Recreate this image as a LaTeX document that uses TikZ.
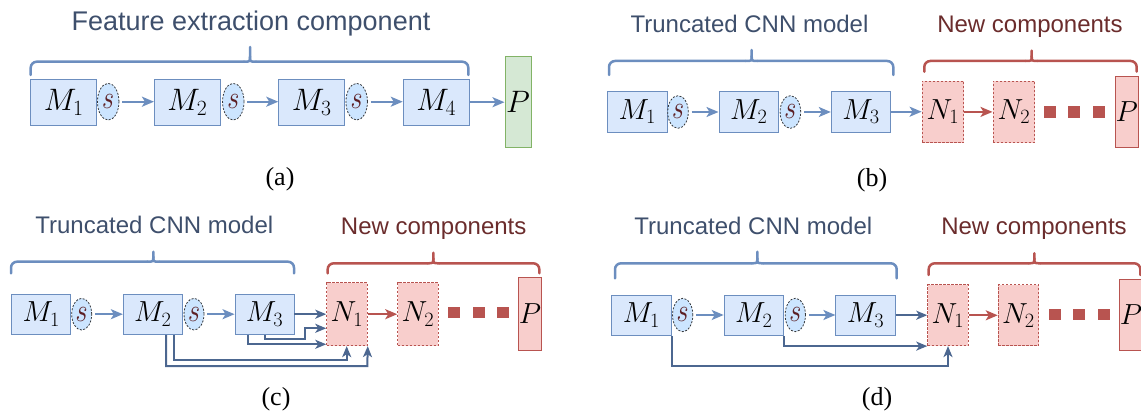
\RequirePackage{fix-cm}
\documentclass[tikz,border=0pt]{standalone}
\usepackage{fontspec}
\newfontfamily\titlefont{Liberation Sans}
\newfontfamily\capfont{Liberation Serif}
\usetikzlibrary{shapes.geometric,arrows.meta}

\definecolor{blueStroke}{HTML}{6C8EBF}
\definecolor{blueFill}{HTML}{DAE8FC}
\definecolor{sFill}{HTML}{CCE5FF}
\definecolor{sLine}{HTML}{36393D}
\definecolor{sText}{HTML}{5C1F24}
\definecolor{redStroke}{HTML}{B85450}
\definecolor{redFill}{HTML}{F8CECC}
\definecolor{greenStroke}{HTML}{82B366}
\definecolor{greenFill}{HTML}{D5E8D4}
\definecolor{skipBlue}{HTML}{4C6790}
\definecolor{titleBlue}{HTML}{3E4F6C}
\definecolor{titleRed}{HTML}{6B2C2C}

% curly brace: #1 colour, #2 left x, #3 right x, #4 bar y, #5 arm end y, #6 tip x, #7 tip top y
\newcommand{\drawbrace}[7]{%
  \draw[#1, line width=2.5pt, line cap=round, rounded corners=6pt] (#2,#5) |- (#6-6,#4);
  \draw[#1, line width=2.5pt, line cap=round, rounded corners=6pt] (#3,#5) |- (#6+6,#4);
  \draw[#1, line width=2.5pt, line cap=round] (#6-6,#4) .. controls (#6,#4) .. (#6,#4-5) -- (#6,#7);
  \draw[#1, line width=2.5pt, line cap=round] (#6+6,#4) .. controls (#6,#4) .. (#6,#4-5);
}
% the tall italic s inside the switch bubbles
\newcommand{\sw}{\scalebox{1}[1.25]{$s$}}

\begin{document}
\begin{tikzpicture}[x=1pt,y=-1pt,
  mathtxt/.style={font=\fontsize{29}{31}\selectfont},
  bigmath/.style={font=\fontsize{31}{33}\selectfont},
  mbox/.style={mathtxt, draw=blueStroke, fill=blueFill, line width=0.9pt, inner sep=0pt},
  nbox/.style={mathtxt, draw=redStroke, fill=redFill, line width=0.9pt, inner sep=0pt, dash pattern=on 2.5pt off 1.5pt},
  predred/.style={mathtxt, draw=redStroke, fill=redFill, line width=1pt, inner sep=0pt},
  predgreen/.style={bigmath, draw=greenStroke, fill=greenFill, line width=1pt, inner sep=0pt},
  sbub/.style={ellipse, draw=sLine, fill=sFill, line width=0.8pt, dash pattern=on 2pt off 1.5pt,
    inner sep=0pt, text=sText, font=\fontsize{26}{26}\selectfont},
  reddot/.style={fill=redStroke, draw=none, minimum size=11.7pt, inner sep=0pt},
  flow/.style={draw=blueStroke, line width=2pt, shorten <=3pt, -{Stealth[length=12pt,width=10pt,inset=3pt]}},
  flowred/.style={draw=redStroke, line width=2pt, -{Stealth[length=12pt,width=10pt,inset=3pt]}},
  skip/.style={draw=skipBlue, line width=2pt, -{Stealth[length=11pt,width=9pt,inset=3pt]}},
  ttl/.style={inner sep=0pt, anchor=base, font=\titlefont\fontsize{24}{24}\selectfont},
  subcap/.style={inner sep=0pt, font=\capfont\fontsize{26}{26}\selectfont}
]
\useasboundingbox (0,0) rectangle (1141,414);
\clip (0,0) rectangle (1141,414);

%% ---------- (a) feature extraction ----------
\node[ttl, text=titleBlue, font=\titlefont\fontsize{27}{27}\selectfont] (ta) at (251,31) {Feature extraction component};
\drawbrace{blueStroke}{30.7}{468.3}{61.7}{75}{250}{47}
\node[mbox, bigmath, minimum width=66pt, minimum height=45.7pt] (a1) at (63.7,102.2) {$M_1$};
\node[mbox, bigmath, minimum width=66pt, minimum height=45.7pt] (a2) at (187.4,102.2) {$M_2$};
\node[mbox, bigmath, minimum width=66pt, minimum height=45.7pt] (a3) at (311.7,102.2) {$M_3$};
\node[mbox, bigmath, minimum width=66pt, minimum height=45.7pt] (a4) at (436.2,102.2) {$M_4$};
\node[sbub, minimum width=21.5pt, minimum height=36.7pt] (as1) at (108.2,101.7) {\sw};
\node[sbub, minimum width=21.5pt, minimum height=36.7pt] (as2) at (233.3,101.7) {\sw};
\node[sbub, minimum width=21.5pt, minimum height=36.7pt] (as3) at (356.7,101.7) {\sw};
\node[predgreen, minimum width=26pt, minimum height=90.6pt] (ap) at (518,102) {$P$};
\draw[flow] (as1.east) -- (as1.east -| a2.west);
\draw[flow] (as2.east) -- (as2.east -| a3.west);
\draw[flow] (as3.east) -- (as3.east -| a4.west);
\draw[flow, shorten <=0pt] (a4.east) -- (a4.east -| ap.west);
\node[subcap] (la) at (280,179) {(a)};

%% ---------- (b) truncated model + new components ----------
\node[ttl, text=titleBlue] (tb1) at (749.5,32.3) {Truncated CNN model};
\node[ttl, text=titleRed] (tb2) at (1030,32.3) {New components};
\drawbrace{blueStroke}{609}{893.3}{61}{75}{751.7}{50}
\drawbrace{redStroke}{924.3}{1136.7}{61}{71.7}{1031.7}{50.7}
\node[mbox, minimum width=59.5pt, minimum height=41.3pt] (b1) at (637.2,111.7) {$M_1$};
\node[mbox, minimum width=59.5pt, minimum height=41.3pt] (b2) at (748.7,111.7) {$M_2$};
\node[mbox, minimum width=59.5pt, minimum height=41.3pt] (b3) at (861,111.7) {$M_3$};
\node[sbub, minimum width=20.6pt, minimum height=32.6pt] (bs1) at (678,112) {\sw};
\node[sbub, minimum width=20.6pt, minimum height=32.6pt] (bs2) at (790.4,112) {\sw};
\node[nbox, minimum width=41.7pt, minimum height=61.7pt] (bn1) at (942.9,111.9) {$N_1$};
\node[nbox, minimum width=41.7pt, minimum height=61.7pt] (bn2) at (1013.8,111.9) {$N_2$};
\node[predred, minimum width=23.3pt, minimum height=71.3pt] (bp) at (1126.7,111.7) {$P$};
\node[reddot] (bd1) at (1050,111.7) {};
\node[reddot] (bd2) at (1074,111.7) {};
\node[reddot] (bd3) at (1099,111.7) {};
\draw[flow] (bs1.east) -- (bs1.east -| b2.west);
\draw[flow] (bs2.east) -- (bs2.east -| b3.west);
\draw[flow, shorten <=0pt] (b3.east) -- (b3.east -| bn1.west);
\draw[flowred] (bn1.east) -- (bn1.east -| bn2.west);
\node[subcap] (lb) at (872,180) {(b)};

%% ---------- (c) dense skip connections ----------
\node[ttl, text=titleBlue] (tc1) at (154.3,234) {Truncated CNN model};
\node[ttl, text=titleRed] (tc2) at (433.7,235) {New components};
\drawbrace{blueStroke}{11}{294}{261.7}{273.3}{153.3}{251.7}
\drawbrace{redStroke}{327.7}{539.3}{263.3}{273.3}{433.3}{252.7}
\node[mbox, minimum width=59pt, minimum height=40.3pt] (c1) at (41.2,314.2) {$M_1$};
\node[mbox, minimum width=59pt, minimum height=40.3pt] (c2) at (152.8,314.2) {$M_2$};
\node[mbox, minimum width=59pt, minimum height=40.3pt] (c3) at (264.5,314.2) {$M_3$};
\node[sbub, minimum width=20pt, minimum height=31.7pt] (cs1) at (81.7,314.2) {\sw};
\node[sbub, minimum width=20pt, minimum height=31.7pt] (cs2) at (194,314.2) {\sw};
\node[nbox, minimum width=40.6pt, minimum height=63pt] (cn1) at (347,314.2) {$N_1$};
\node[nbox, minimum width=40.6pt, minimum height=63pt] (cn2) at (418,314.2) {$N_2$};
\node[predred, minimum width=23.4pt, minimum height=72.3pt] (cp) at (530,313.9) {$P$};
\node[reddot] (cd1) at (454,312.5) {};
\node[reddot] (cd2) at (479,312.5) {};
\node[reddot] (cd3) at (503,312.5) {};
\draw[flow] (cs1.east) -- (cs1.east -| c2.west);
\draw[flow] (cs2.east) -- (cs2.east -| c3.west);
\draw[flowred] (cn1.east) -- (cn1.east -| cn2.west);
\draw[skip] (c3.east) -- (cn1.west);
\draw[skip] (c3.south) |- (305,339) |- (cn1.west |- 0,328.3);
\draw[skip] (c3.south -| 248.3,0) |- (cn1.west |- 0,344.3);
\draw[skip] (c2.south -| 174.3,0) |- (346.7,359.7) -- (cn1.south -| 346.7,0);
\draw[skip] (c2.south -| 166,0) |- (367.3,366) -- (cn1.south east);
\node[subcap] (lc) at (276,399) {(c)};

%% ---------- (d) sparse skip connections ----------
\node[ttl, text=titleBlue] (td1) at (753.3,235) {Truncated CNN model};
\node[ttl, text=titleRed] (td2) at (1034,235) {New components};
\drawbrace{blueStroke}{615}{896.7}{263.3}{278.3}{757.3}{251.7}
\drawbrace{redStroke}{928.7}{1140.3}{263.3}{275}{1034.3}{253.3}
\node[mbox, minimum width=59.3pt, minimum height=40.3pt] (d1) at (641.4,315.2) {$M_1$};
\node[mbox, minimum width=59.3pt, minimum height=40.3pt] (d2) at (753.8,315.2) {$M_2$};
\node[mbox, minimum width=59.3pt, minimum height=40.3pt] (d3) at (865.5,315.2) {$M_3$};
\node[sbub, minimum width=20.3pt, minimum height=33.4pt] (ds1) at (682.7,315) {\sw};
\node[sbub, minimum width=20.3pt, minimum height=33.4pt] (ds2) at (795.3,315) {\sw};
\node[nbox, minimum width=40.6pt, minimum height=60.7pt] (dn1) at (948,315.3) {$N_1$};
\node[nbox, minimum width=40.6pt, minimum height=60.7pt] (dn2) at (1018.5,315.3) {$N_2$};
\node[predred, minimum width=23.3pt, minimum height=70.7pt] (dp) at (1131,314.7) {$P$};
\node[reddot] (dd1) at (1055,314.5) {};
\node[reddot] (dd2) at (1079,314.5) {};
\node[reddot] (dd3) at (1104,314.5) {};
\draw[flow] (ds1.east) -- (ds1.east -| d2.west);
\draw[flow] (ds2.east) -- (ds2.east -| d3.west);
\draw[flowred] (dn1.east) -- (dn1.east -| dn2.west);
\draw[skip] (d3.east) -- (d3.east -| dn1.west);
\draw[skip] (d2.south east) |- (dn1.south west);
\draw[skip] (d1.south east) |- (dn1.south |- 0,366) -- (dn1.south);
\node[subcap] (ld) at (877,399) {(d)};
\end{tikzpicture}
\end{document}
